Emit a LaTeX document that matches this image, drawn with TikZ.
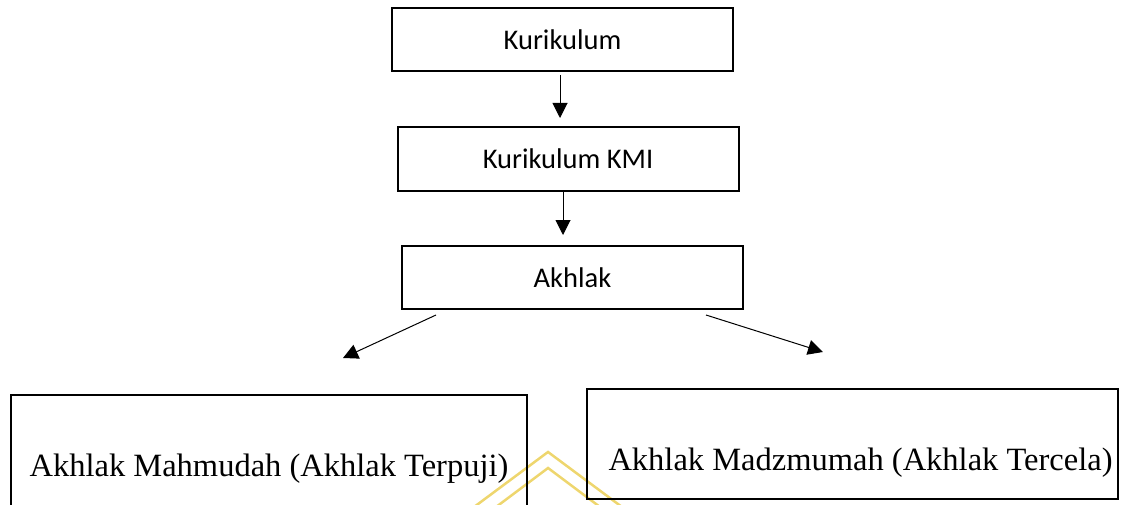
\documentclass[tikz,border=0pt]{standalone}
\usepackage{fontspec}
\setmainfont{Liberation Serif}
\newfontfamily\calib{Carlito}
\usetikzlibrary{arrows.meta,calc}
\definecolor{wmgold}{RGB}{238,214,110}
\begin{document}
\begin{tikzpicture}[x=1pt,y=-1pt,
  topbox/.style={draw, line width=2pt, inner sep=0pt, outer sep=0pt,
    minimum width=341pt, minimum height=63pt, font=\calib\fontsize{28.5}{34}\selectfont},
  botbox/.style={draw, line width=2pt, inner sep=0pt, outer sep=0pt},
  bottext/.style={font=\fontsize{32.5}{38}\selectfont, inner sep=0pt, anchor=base},
  arr/.style={-{Triangle[length=15pt,width=15pt]}, line width=1pt},
  wm/.style={draw=wmgold, line width=2.5pt, line join=miter}]
\useasboundingbox (0,0) rectangle (1121,505);
\clip (0,0) rectangle (1121,505);
% watermark (partly visible logo)
\draw[wm] (470,510) -- (548,452) -- (626,510);
\draw[wm] (492,510) -- (548,468) -- (604,510);
% top chain
\node[topbox] (k) at (562.5,39.5) {Kurikulum};
\node[topbox, minimum height=64pt] (kmi) at (568,159) {Kurikulum KMI};
\node[topbox] (a) at (572.5,277.5) {Akhlak};
% bottom boxes
\node[botbox, minimum width=516pt, minimum height=135pt] (lbox) at (269,462.5) {};
\node[bottext] (ltext) at (269,476) {Akhlak Mahmudah (Akhlak Terpuji)};
\node[botbox, minimum width=531pt, minimum height=110pt] (rbox) at (852.5,444) {};
\node[bottext] (rtext) at (860.5,470) {Akhlak Madzmumah (Akhlak Tercela)};
% connectors
\draw[arr, shorten <=4pt, shorten >=9pt] ([xshift=-2.5pt]k.south) -- ([xshift=-2.5pt]k.south |- kmi.north);
\draw[arr, shorten <=1pt, shorten >=11pt] ([xshift=-5pt]kmi.south) -- ([xshift=-5pt]kmi.south |- a.north);
\coordinate (lt) at (343,358);
\coordinate (rt) at (823,352);
\draw[arr] ($(a.south west)+(34,6)$) -- (lt);
\draw[arr] ($(a.south east)+(-37,6)$) -- (rt);
\end{tikzpicture}
\end{document}
